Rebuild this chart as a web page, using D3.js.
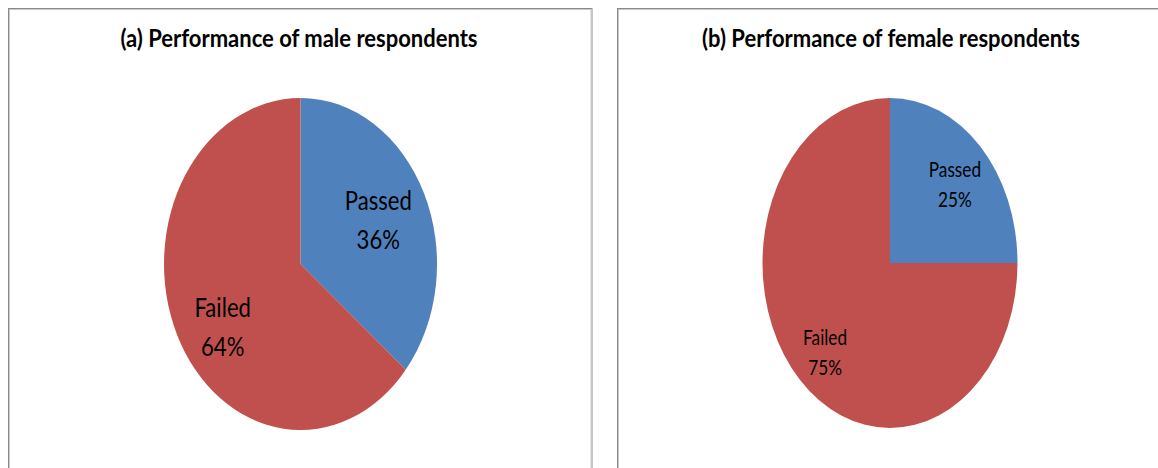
<!DOCTYPE html>
<html>
<head>
<meta charset="utf-8">
<script src="https://cdn.jsdelivr.net/npm/d3@7/dist/d3.min.js"></script>
<style>
  html, body { margin: 0; padding: 0; background: #fff; }
  svg { display: block; }
  text { font-family: Lato, "Open Sans", sans-serif; fill: #000; }
</style>
</head>
<body>
<svg id="chart" width="1158" height="468"></svg>
<script>
// Results for each group
const categories = ["Passed", "Failed"];
const maleValues = [36, 64];
const femaleValues = [25, 75];
const titles = ["(a) Performance of male respondents", "(b) Performance of female respondents"];

const colors = d3.scaleOrdinal().domain(categories).range(["#4F81BD", "#C0504D"]);

const svg = d3.select("#chart");

// Panel layout: frame, pie centre and radii (ellipse), label settings
const panels = [
  { values: maleValues, title: titles[0], frame: [8.5, 8.5, 583.5, 470],
    cx: 300.5, cy: 264, rx: 136.5, ry: 166, labelK: 0.63, labelSize: 27, lineGap: 39,
    labelShift: [0, 18], titleX: 299 },
  { values: femaleValues, title: titles[1], frame: [617.5, 8.5, 560, 470],
    cx: 890, cy: 263, rx: 127.5, ry: 165, labelK: 0.72, labelSize: 21, lineGap: 30,
    labelShift: [5, 5], titleX: 891 }
];

const squeeze = 0.82;      // narrow lettering for the data labels
const titleSqueeze = 0.88; // and for the bold titles

const pie = d3.pie().sort(null).value(d => d.value);

panels.forEach(p => {
  const g = svg.append("g");

  // chart frame
  g.append("rect")
    .attr("x", p.frame[0]).attr("y", p.frame[1])
    .attr("width", p.frame[2]).attr("height", p.frame[3])
    .attr("fill", "none").attr("stroke", "#8a8a8a").attr("stroke-width", 1);
  g.append("rect")
    .attr("x", p.frame[0] + 1).attr("y", p.frame[1] + 1)
    .attr("width", p.frame[2] - 2).attr("height", p.frame[3] - 2)
    .attr("fill", "none").attr("stroke", "#c8c8c8").attr("stroke-width", 1);

  // title
  g.append("text")
    .attr("transform", `translate(${p.titleX},47) scale(${titleSqueeze},1)`)
    .attr("text-anchor", "middle")
    .style("font-weight", "bold")
    .style("font-size", "25px")
    .text(p.title);

  const data = categories.map((c, i) => ({ name: c, value: p.values[i] }));
  const arcs = pie(data);
  const total = d3.sum(p.values);

  // unit-radius arcs, stretched to an ellipse
  const arc = d3.arc().innerRadius(0).outerRadius(1);
  g.append("g")
    .attr("transform", `translate(${p.cx},${p.cy}) scale(${p.rx},${p.ry})`)
    .selectAll("path")
    .data(arcs)
    .join("path")
    .attr("d", arc)
    .attr("fill", d => colors(d.data.name));

  // data labels near the slice centroids
  const labelArc = d3.arc().innerRadius(0).outerRadius(p.labelK * 2);
  arcs.forEach((a, i) => {
    const [ux, uy] = labelArc.centroid(a);
    const x = p.cx + ux * p.rx;
    const y = p.cy + uy * p.ry + p.labelShift[i];
    const t = g.append("text")
      .attr("transform", `translate(${x},${y}) scale(${squeeze},1)`)
      .attr("text-anchor", "middle")
      .style("font-size", p.labelSize + "px");
    t.append("tspan").attr("x", 0).attr("y", -p.lineGap / 2 + p.labelSize * 0.36).text(a.data.name);
    t.append("tspan").attr("x", 0).attr("y", p.lineGap / 2 + p.labelSize * 0.36)
      .text(Math.round(a.data.value / total * 100) + "%");
  });
});
</script>
</body>
</html>
